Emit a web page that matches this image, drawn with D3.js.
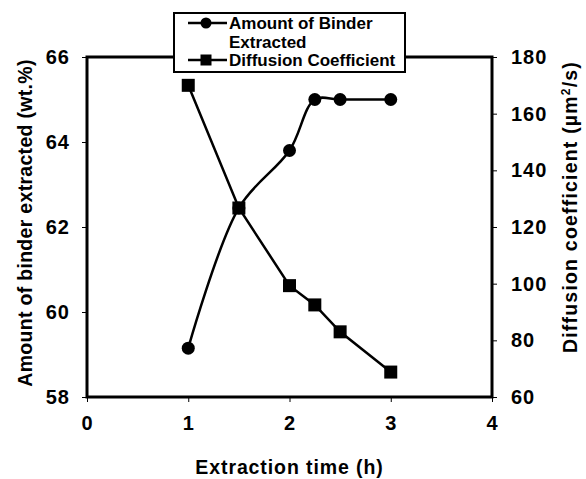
<!DOCTYPE html>
<html>
<head>
<meta charset="utf-8">
<script src="https://cdn.jsdelivr.net/npm/d3@7"></script>
<style>
  body { margin: 0; background: #fff; }
  text { font-family: "Liberation Sans", Arial, sans-serif; font-weight: bold; fill: #000; }
</style>
</head>
<body>
<svg id="chart" width="586" height="479"></svg>
<script>
// data
const timeH = [1, 1.5, 2, 2.25, 2.5, 3];
const binderPct = [59.15, 62.45, 63.8, 65.0, 65.0, 65.0];
const diffCoef = [170, 126.7, 99.3, 92.5, 83, 68.8];
const xTicks = [0, 1, 2, 3, 4];
const leftTicks = [58, 60, 62, 64, 66];
const rightTicks = [60, 80, 100, 120, 140, 160, 180];

const svg = d3.select("#chart");
const plotL = 87, plotT = 57, plotR = 492, plotB = 397;

const x = d3.scaleLinear().domain([0, 4]).range([plotL, plotR]);
const yL = d3.scaleLinear().domain([58, 66]).range([plotB, plotT]);
const yR = d3.scaleLinear().domain([60, 180]).range([plotB, plotT]);

// ticks
const axL = svg.append("g").attr("transform", `translate(${plotL},0)`)
  .call(d3.axisLeft(yL).tickValues(leftTicks).tickSize(5).tickPadding(12).tickFormat(d3.format("d")));
const axR = svg.append("g").attr("transform", `translate(${plotR},0)`)
  .call(d3.axisRight(yR).tickValues(rightTicks).tickSize(5).tickPadding(14).tickFormat(d3.format("d")));
const axX = svg.append("g").attr("transform", `translate(0,${plotB})`)
  .call(d3.axisBottom(x).tickValues(xTicks).tickSize(5).tickPadding(14).tickFormat(d3.format("d")));

[axL, axR, axX].forEach(a => {
  a.select(".domain").remove();
  a.selectAll(".tick line").attr("stroke", "#000").attr("stroke-width", 1);
  a.selectAll(".tick text").style("font-size", "20px")
    .style("letter-spacing", "1px").attr("fill", "#000");
});

// frame
svg.append("rect")
  .attr("x", plotL).attr("y", plotT)
  .attr("width", plotR - plotL).attr("height", plotB - plotT)
  .attr("fill", "none").attr("stroke", "#000").attr("stroke-width", 3);

// series
const binderLine = d3.line()
  .x((d, i) => x(timeH[i])).y(d => yL(d))
  .curve(d3.curveCatmullRom.alpha(0.5));
const diffLine = d3.line()
  .x((d, i) => x(timeH[i])).y(d => yR(d));

svg.append("path").datum(binderPct)
  .attr("d", binderLine).attr("fill", "none")
  .attr("stroke", "#000").attr("stroke-width", 2.5);
svg.append("path").datum(diffCoef)
  .attr("d", diffLine).attr("fill", "none")
  .attr("stroke", "#000").attr("stroke-width", 2.5);

svg.selectAll(".pt-b").data(binderPct).enter()
  .append("circle").attr("class", "pt-b")
  .attr("cx", (d, i) => x(timeH[i])).attr("cy", d => yL(d))
  .attr("r", 6.5).attr("fill", "#000");

svg.selectAll(".pt-d").data(diffCoef).enter()
  .append("rect").attr("class", "pt-d")
  .attr("x", (d, i) => x(timeH[i]) - 6.5).attr("y", d => yR(d) - 6.5)
  .attr("width", 13).attr("height", 13).attr("fill", "#000");

// axis titles
svg.append("text")
  .attr("x", (plotL + plotR) / 2).attr("y", 474)
  .attr("text-anchor", "middle").style("font-size", "19.5px")
  .style("letter-spacing", "0.9px")
  .text("Extraction time (h)");

svg.append("text")
  .attr("transform", `translate(32,223) rotate(-90)`)
  .attr("text-anchor", "middle").style("font-size", "19.5px")
  .style("letter-spacing", "0.3px")
  .text("Amount of binder extracted (wt.%)");

const rt = svg.append("text")
  .attr("transform", `translate(577,207) rotate(-90)`)
  .attr("text-anchor", "middle").style("font-size", "19.5px")
  .style("letter-spacing", "1.2px");
rt.append("tspan").text("Diffusion coefficient (µm");
rt.append("tspan").attr("dy", -7).style("font-size", "12px").text("2");
rt.append("tspan").attr("dy", 7).text("/s)");

// legend
const lg = svg.append("g");
lg.append("rect")
  .attr("x", 174).attr("y", 13).attr("width", 231).attr("height", 59)
  .attr("fill", "#fff").attr("stroke", "#000").attr("stroke-width", 2);
const rows = [
  { label: ["Amount of Binder", "Extracted"], y: 23, shape: "circle" },
  { label: ["Diffusion Coefficient"], y: 60, shape: "square" }
];
rows.forEach(r => {
  lg.append("line").attr("x1", 188).attr("x2", 227)
    .attr("y1", r.y).attr("y2", r.y)
    .attr("stroke", "#000").attr("stroke-width", 2.5);
  if (r.shape === "circle") {
    lg.append("circle").attr("cx", 206).attr("cy", r.y).attr("r", 5.5).attr("fill", "#000");
  } else {
    lg.append("rect").attr("x", 200.5).attr("y", r.y - 5.5)
      .attr("width", 11).attr("height", 11).attr("fill", "#000");
  }
  r.label.forEach((t, k) => {
    lg.append("text").attr("x", 229).attr("y", r.y + 6 + k * 19)
      .style("font-size", "17px").text(t);
  });
});
</script>
</body>
</html>
